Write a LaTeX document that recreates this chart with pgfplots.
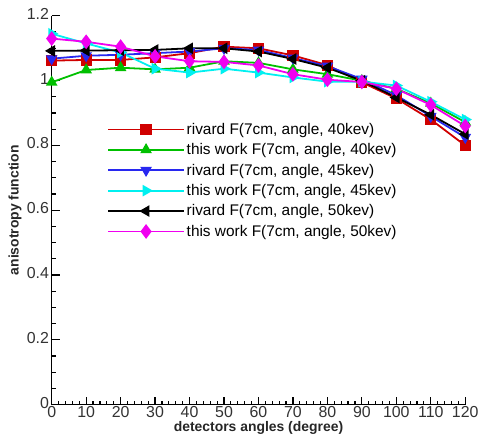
\documentclass[border=0pt]{standalone}
\usepackage{fontspec}
\setmainfont{Liberation Sans}
\usepackage{pgfplots}
\pgfplotsset{compat=1.18}
\usetikzlibrary{calc}

\definecolor{cRed}{HTML}{D00000}
\definecolor{cGreen}{HTML}{00C000}
\definecolor{cBlue}{HTML}{2828F0}
\definecolor{cCyan}{HTML}{00F0F0}
\definecolor{cMag}{HTML}{F000F0}

% angle (degree) vs anisotropy function
\pgfplotstableread{
ang rv40 tw40 rv45 tw45 rv50 tw50
0   1.062 0.995 1.068 1.145 1.092 1.130
10  1.064 1.033 1.077 1.115 1.093 1.120
20  1.064 1.040 1.080 1.087 1.094 1.105
30  1.072 1.035 1.085 1.037 1.095 1.075
40  1.085 1.040 1.090 1.025 1.100 1.060
50  1.105 1.060 1.100 1.037 1.100 1.058
60  1.100 1.055 1.095 1.025 1.090 1.047
70  1.078 1.035 1.070 1.010 1.067 1.020
80  1.048 1.020 1.045 0.997 1.040 1.003
90  0.995 1.000 1.005 0.997 1.000 0.996
100 0.945 0.975 0.955 0.985 0.948 0.975
110 0.880 0.930 0.890 0.935 0.895 0.925
120 0.800 0.872 0.825 0.880 0.835 0.860
}\anisodata

\begin{document}
\begin{tikzpicture}
\begin{axis}[
  name=main,
  scale only axis,
  width=416pt, height=391pt,
  xmin=0, xmax=120, ymin=0, ymax=1.2,
  axis lines=left,
  axis line style={-, line width=1.6pt, black},
  xtick={0,10,...,120},
  ytick={0,0.2,...,1.2},
  minor x tick num=4,
  minor y tick num=3,
  tick align=inside,
  major tick length=8pt,
  minor tick length=4pt,
  every tick/.style={black, line width=1.2pt},
  tick label style={font=\fontsize{16}{17}\selectfont, text=black!80},
  xticklabel style={yshift=0pt, inner sep=1.5pt},
  yticklabel style={xshift=-1pt, yshift=2pt, inner sep=1.5pt},
  /pgf/number format/assume math mode=true,
  xlabel={\bfseries detectors angles (degree)},
  ylabel={\bfseries anisotropy function},
  label style={font=\fontsize{14}{15}\selectfont, text=black!85, inner sep=0pt},
  xlabel style={at={(axis description cs:0.5,0)}, anchor=north, yshift=-17pt},
  ylabel style={at={(axis description cs:0,0.5)}, anchor=center, yshift=37pt},
  every axis plot/.append style={line width=1.8pt},
  legend cell align=left,
  legend style={
    at={(0.127,0.735)}, anchor=north west,
    draw=none, fill=none,
    font=\fontsize{15.5}{17}\selectfont,
    row sep=3.8pt,
  },
  legend image code/.code={
    \draw[mark repeat=2,mark phase=2,#1]
      plot coordinates {(0pt,0pt) (38pt,0pt) (76pt,0pt)};
  },
]
\addplot[cRed, mark=square*, mark size=4.7pt] table[x=ang, y=rv40] {\anisodata};
\addlegendentry{rivard F(7cm, angle, 40kev)}
\addplot[cGreen, mark=triangle*, mark size=5pt] table[x=ang, y=tw40] {\anisodata};
\addlegendentry{this work F(7cm, angle, 40kev)}
\addplot[cBlue, mark=triangle*, mark size=5pt, mark options={rotate=180}] table[x=ang, y=rv45] {\anisodata};
\addlegendentry{rivard F(7cm, angle, 45kev)}
\addplot[cCyan, mark=triangle*, mark size=5pt, mark options={rotate=-90}] table[x=ang, y=tw45] {\anisodata};
\addlegendentry{this work F(7cm, angle, 45kev)}
\addplot[black, mark=triangle*, mark size=5pt, mark options={rotate=90}] table[x=ang, y=rv50] {\anisodata};
\addlegendentry{rivard F(7cm, angle, 50kev)}
\addplot[cMag, mark=diamond*, mark size=6pt] table[x=ang, y=tw50] {\anisodata};
\addlegendentry{this work F(7cm, angle, 50kev)}
\end{axis}
\path ($(main.south west)+(-52pt,-32pt)$) rectangle ($(main.north east)+(12pt,16pt)$);
\end{tikzpicture}
\end{document}
